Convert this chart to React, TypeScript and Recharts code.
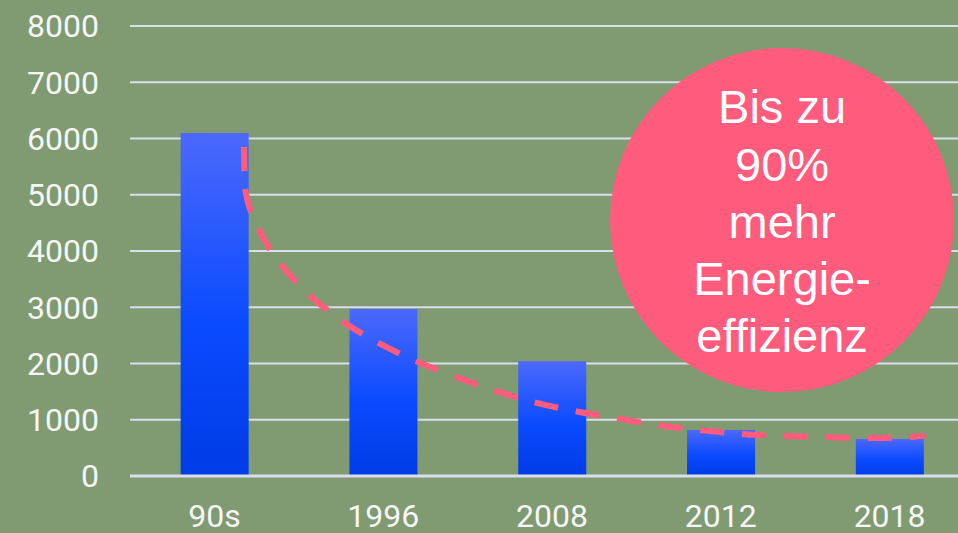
import React from 'react';
import {
  ComposedChart,
  Bar,
  Line,
  XAxis,
  YAxis,
  CartesianGrid,
  ReferenceDot,
} from 'recharts';

const categories = ['90s', '1996', '2008', '2012', '2018'];
const consumption = [6100, 2970, 2040, 820, 660];
const yTicks = [0, 1000, 2000, 3000, 4000, 5000, 6000, 7000, 8000];

// trend curve (position in category units, value)
const trendPos = [0.175, 0.181, 0.258, 0.389, 0.555, 0.75, 0.963, 1.183, 1.414, 1.65, 1.887, 2.13, 2.373, 2.622, 2.87, 3.119, 3.368, 3.617, 3.866, 4.114, 4.209];
const trendValues = [5850, 5120, 4430, 3790, 3240, 2770, 2380, 2060, 1780, 1530, 1316, 1156, 1031, 907, 818, 747, 711, 693, 676, 693, 710];

const calloutLines = ['Bis zu', '90%', 'mehr', 'Energie-', 'effizienz'];
const calloutPos = 3.363;
const calloutValue = 4550;

const barData = categories.map((c, i) => ({ category: c, value: consumption[i] }));
const trendData = trendPos.map((p, i) => ({ pos: p, trend: trendValues[i] }));

const BG = '#809A72';
const GRID = '#D8DEEA';
const PINK = '#FF5B7C';
const FONT = '"Liberation Sans", Arial, Helvetica, sans-serif';
const TICK_FONT = 'Roboto, "Liberation Sans", Arial, sans-serif';

const Callout = (props: any) => {
  const { cx, cy } = props;
  const baselines = [-97, -39, 18, 75, 132];
  return (
    <g>
      <circle cx={cx} cy={cy} r={172} fill={PINK} />
      {calloutLines.map((t, i) => (
        <text
          key={i}
          x={cx}
          y={cy + baselines[i]}
          textAnchor="middle"
          fill="#FFFFFF"
          fontSize={47}
          fontFamily={FONT}
        >
          {t}
        </text>
      ))}
    </g>
  );
};

export default function App() {
  return (
    <div style={{ position: 'absolute', left: 0, top: 0, width: 958, height: 533, background: BG }}>
      <ComposedChart
        width={958}
        height={533}
        data={barData}
        margin={{ top: 26, right: -16, bottom: 0, left: 0 }}
        barCategoryGap="30%"
      >
        <defs>
          <linearGradient id="barGrad" x1="0" y1="0" x2="0" y2="1">
            <stop offset="0%" stopColor="#4C69FB" />
            <stop offset="55%" stopColor="#0A4BFF" />
            <stop offset="100%" stopColor="#003CE6" />
          </linearGradient>
        </defs>
        <CartesianGrid vertical={false} stroke={GRID} strokeWidth={2} xAxisId="cat" />
        <XAxis
          xAxisId="cat"
          dataKey="category"
          height={57}
          tickSize={0}
          tickMargin={28}
          axisLine={{ stroke: GRID, strokeWidth: 3 }}
          tickLine={false}
          tick={{ fill: '#F6F6F6', fontSize: 32, fontFamily: TICK_FONT, fontWeight: 400 }}
          interval={0}
        />
        <XAxis
          xAxisId="trend"
          type="number"
          dataKey="pos"
          domain={[-0.5, 4.5]}
          hide
          allowDataOverflow
        />
        <YAxis
          domain={[0, 8000]}
          ticks={yTicks}
          width={130}
          axisLine={false}
          tickLine={false}
          tickSize={0}
          tickMargin={31}
          interval={0}
          tick={{ fill: '#F6F6F6', fontSize: 32, fontFamily: TICK_FONT, fontWeight: 400 }}
        />
        <Bar xAxisId="cat" dataKey="value" fill="url(#barGrad)" isAnimationActive={false} />
        <Line
          xAxisId="trend"
          data={trendData}
          dataKey="trend"
          type="monotone"
          stroke={PINK}
          strokeWidth={6}
          strokeDasharray="24 18"
          dot={false}
          activeDot={false}
          isAnimationActive={false}
        />
        <ReferenceDot
          xAxisId="trend"
          x={calloutPos}
          y={calloutValue}
          r={172}
          shape={Callout}
          ifOverflow="visible"
        />
      </ComposedChart>
    </div>
  );
}
